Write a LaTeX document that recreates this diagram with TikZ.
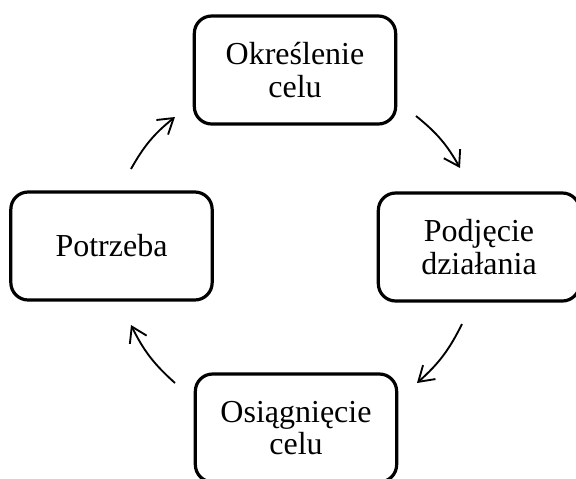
\documentclass[tikz,border=0pt]{standalone}
\usepackage{fontspec}
\setmainfont{Liberation Serif}
\usetikzlibrary{arrows.meta}
\begin{document}
\begin{tikzpicture}[x=0.75pt,y=-0.75pt,
  stage/.style={draw=black,line width=2.4pt,rounded corners=13pt,
    minimum width=151pt,minimum height=81pt,align=center,
    inner sep=0pt,font=\fontsize{24pt}{24.5pt}\selectfont},
  flow/.style={line width=1.4pt,-{Straight Barb[length=11pt,width=14pt,line width=1.4pt]}}]
  \clip (0,0) rectangle (576,479);
  % the four stages of the cycle
  \node[stage] (goal)    at (295,70)  {Określenie\\celu};
  \node[stage] (action)  at (479,247) {Podjęcie\\działania};
  \node[stage] (need)    at (111.5,246) {Potrzeba};
  \node[stage] (achieve) at (296,428) {Osiągnięcie\\celu};
  % arrow end points between the stages
  \coordinate (a1) at (131,169);
  \coordinate (b1) at (175,117);
  \coordinate (a2) at (416,116);
  \coordinate (b2) at (460,168);
  \coordinate (a3) at (462,324);
  \coordinate (b3) at (417,383);
  \coordinate (a4) at (175,383);
  \coordinate (b4) at (131,325);
  \draw[flow] (a1) to[bend left=11] (b1);
  \draw[flow] (a2) to[bend left=11] (b2);
  \draw[flow] (a3) to[bend left=11] (b3);
  \draw[flow] (a4) to[bend left=11] (b4);
\end{tikzpicture}
\end{document}
